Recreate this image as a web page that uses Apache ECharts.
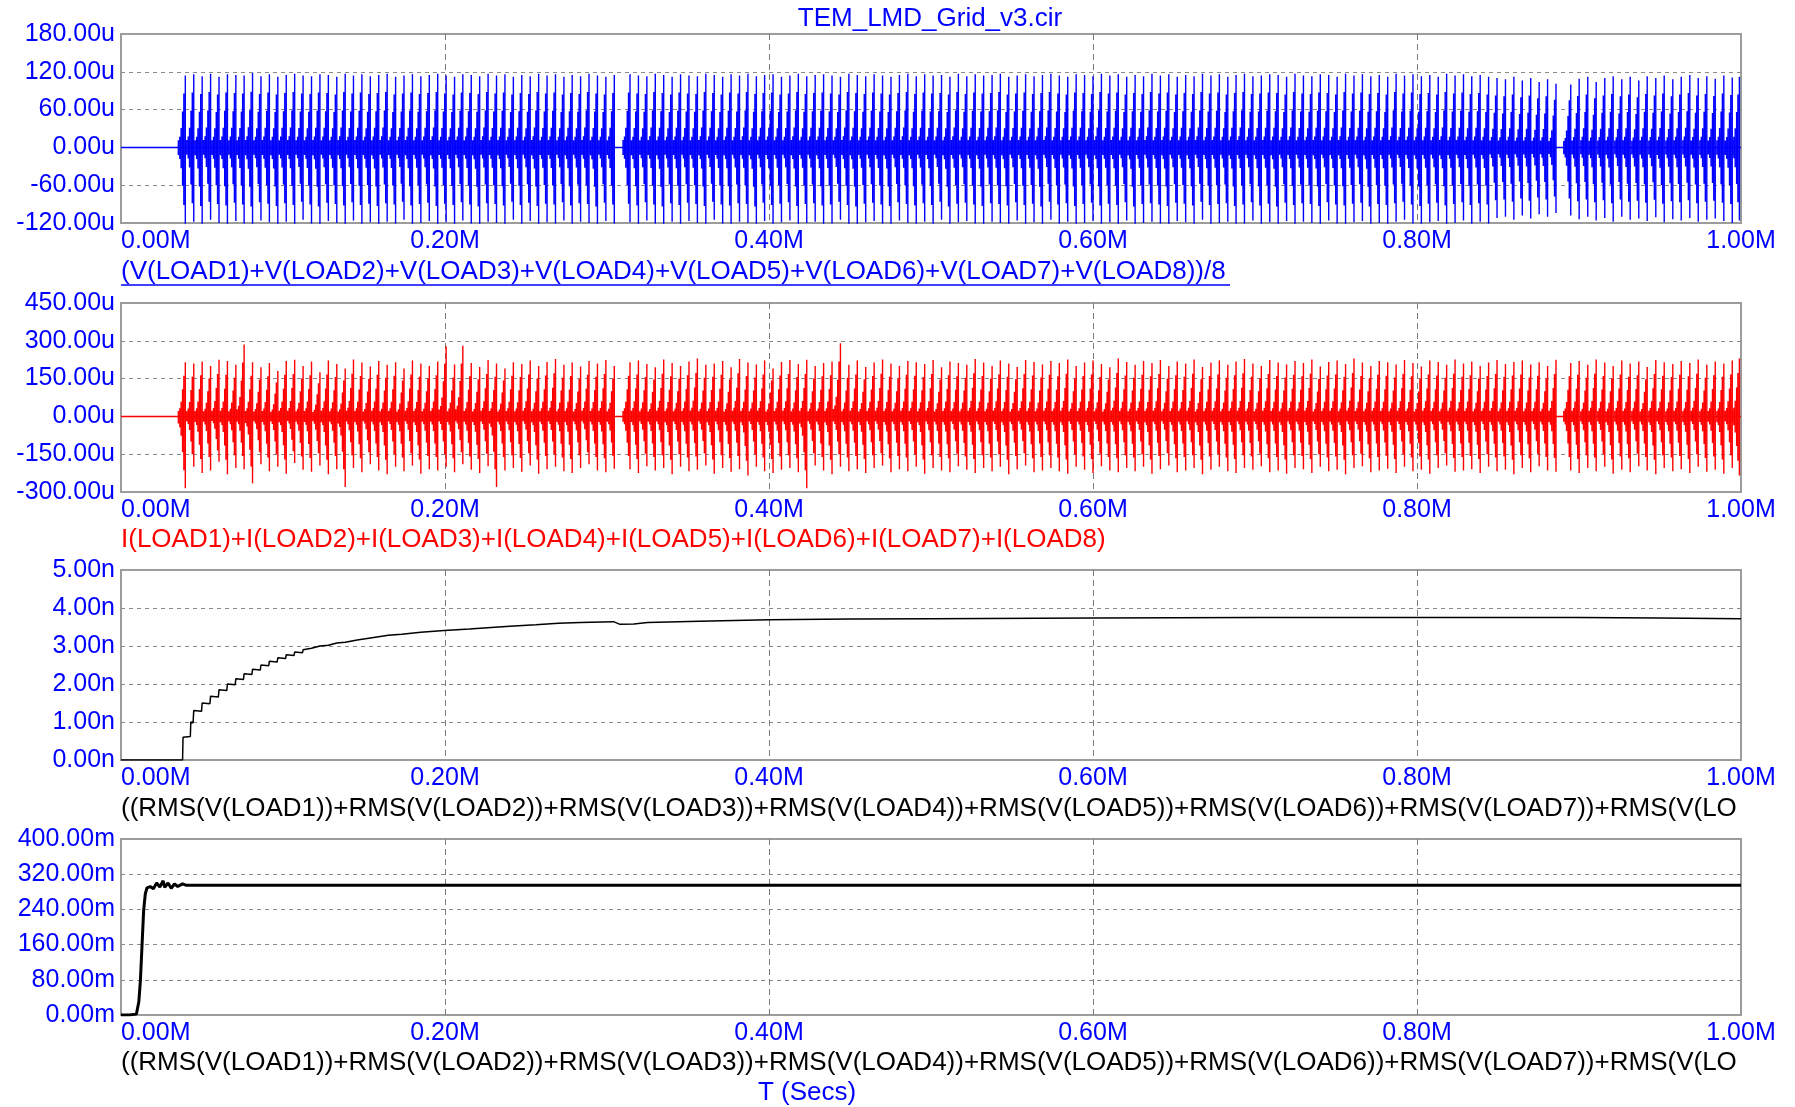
<!DOCTYPE html>
<html>
<head>
<meta charset="utf-8">
<script src="https://cdn.jsdelivr.net/npm/echarts@6/dist/echarts.min.js"></script>
<style>html,body{margin:0;padding:0;background:#fff}#c{width:1795px;height:1107px}</style>
</head>
<body>
<div id="c"></div>
<script>
// ---------------- data ----------------
const titleText = 'TEM_LMD_Grid_v3.cir';
const xAxisLabel = 'T (Secs)';
const exprV = '(V(LOAD1)+V(LOAD2)+V(LOAD3)+V(LOAD4)+V(LOAD5)+V(LOAD6)+V(LOAD7)+V(LOAD8))/8';
const exprI = 'I(LOAD1)+I(LOAD2)+I(LOAD3)+I(LOAD4)+I(LOAD5)+I(LOAD6)+I(LOAD7)+I(LOAD8)';
const exprRms = '((RMS(V(LOAD1))+RMS(V(LOAD2))+RMS(V(LOAD3))+RMS(V(LOAD4))+RMS(V(LOAD5))+RMS(V(LOAD6))+RMS(V(LOAD7))+RMS(V(LO';

const xTicks = {min: 0, max: 1, interval: 0.2};
const yTicksV = {min: -120, max: 180, interval: 60, unit: 'u'};
const yTicksI = {min: -300, max: 450, interval: 150, unit: 'u'};
const yTicksRmsN = {min: 0, max: 5, interval: 1, unit: 'n'};
const yTicksRmsM = {min: 0, max: 400, interval: 80, unit: 'm'};

// burst (spike) times
const spikeTimes = [
0.0397,0.0449,0.0501,0.0553,0.0605,0.0657,0.0709,0.0760,0.0812,0.0864,
0.0916,0.0968,0.1020,0.1072,0.1124,0.1176,0.1228,0.1280,0.1332,0.1384,
0.1435,0.1487,0.1539,0.1591,0.1643,0.1695,0.1747,0.1799,0.1851,0.1903,
0.1955,0.2007,0.2059,0.2110,0.2162,0.2214,0.2266,0.2318,0.2370,0.2422,
0.2474,0.2526,0.2578,0.2630,0.2682,0.2734,0.2785,0.2837,0.2889,0.2941,
0.2993,0.3045,
0.3142,0.3194,0.3246,0.3298,0.3350,0.3402,0.3454,0.3506,0.3558,0.3610,
0.3662,0.3714,0.3766,0.3818,0.3870,0.3922,0.3973,0.4025,0.4077,0.4129,
0.4181,0.4233,0.4285,0.4337,0.4389,0.4441,0.4493,0.4545,0.4597,0.4649,
0.4701,0.4753,0.4805,0.4857,0.4909,0.4961,0.5013,0.5065,0.5117,0.5169,
0.5221,0.5273,0.5325,0.5377,0.5428,0.5480,0.5532,0.5584,0.5636,0.5688,
0.5740,0.5792,0.5844,0.5896,0.5948,0.6000,0.6052,0.6104,0.6156,0.6208,
0.6260,0.6312,0.6364,0.6416,0.6468,0.6520,0.6572,0.6624,0.6676,0.6728,
0.6780,0.6832,0.6883,0.6935,0.6987,0.7039,0.7091,0.7143,0.7195,0.7247,
0.7299,0.7351,0.7403,0.7455,0.7507,0.7559,0.7611,0.7663,0.7715,0.7767,
0.7819,0.7871,0.7923,0.7975,0.8027,0.8079,0.8131,0.8183,0.8235,0.8287,
0.8338,0.8390,0.8442,0.8494,0.8546,0.8598,0.8650,0.8702,0.8754,0.8806,
0.8858,
0.8949,0.9001,0.9054,0.9106,0.9159,0.9211,0.9264,0.9316,0.9369,0.9421,
0.9474,0.9526,0.9579,0.9631,0.9684,0.9736,0.9789,0.9841,0.9894,0.9946,
0.9990
];
// envelope of one burst: offsets before each spike and relative heights (read from zoom)
const rampOffsets = [-0.0043, -0.0034, -0.0026, -0.0017, -0.0009, 0];
const rampLevels = [0.10, 0.15, 0.27, 0.50, 0.75, 1.00];

// panel 1: V average, spike peaks (u)
const vHi = [
114,116,113,117,112,116,115,114,118,113,116,112,115,117,114,113,116,115,112,117,
114,116,113,115,117,112,114,116,113,115,117,114,112,116,115,113,117,114,116,112,
115,113,117,114,116,112,115,113,117,114,112,115,
116,114,113,117,115,112,116,114,113,117,115,112,116,114,117,113,115,116,112,114,
117,113,115,116,114,112,117,115,113,116,114,112,115,117,113,116,114,115,112,117,
113,116,114,115,117,112,114,116,113,115,117,114,112,116,115,113,117,114,116,112,
115,113,117,114,116,112,115,113,117,114,116,112,115,117,113,114,116,115,112,117,
114,113,116,115,112,117,114,116,113,115,112,117,114,116,113,115,112,117,114,116,
113,115,112,110,108,112,106,110,104,108,101,
100,109,112,104,110,113,108,112,106,113,110,114,108,112,115,110,113,109,114,111,112
];
const vLo = [
-122,-118,-124,-115,-120,-123,-117,-121,-125,-116,-119,-124,-118,-122,-115,-121,-125,-117,-120,-123,
-116,-122,-119,-124,-118,-121,-115,-123,-120,-117,-124,-119,-122,-116,-121,-125,-118,-120,-123,-115,
-122,-117,-124,-119,-121,-116,-123,-118,-120,-125,-117,-121,
-119,-123,-116,-121,-125,-118,-122,-117,-120,-124,-115,-121,-123,-118,-120,-125,-117,-122,-119,-116,
-124,-120,-118,-123,-121,-115,-122,-125,-119,-117,-121,-124,-116,-120,-123,-118,-122,-115,-125,-119,
-117,-121,-124,-118,-120,-123,-116,-122,-119,-125,-115,-121,-118,-124,-120,-117,-123,-119,-122,-116,
-125,-120,-118,-121,-124,-117,-119,-123,-115,-122,-120,-118,-124,-121,-116,-123,-119,-125,-117,-122,
-118,-120,-124,-116,-121,-123,-119,-117,-125,-120,-122,-118,-115,-121,-124,-119,-117,-123,-120,-116,
-122,-118,-121,-112,-110,-115,-108,-113,-106,-110,-104,
-108,-114,-110,-116,-112,-118,-110,-115,-113,-117,-111,-119,-114,-116,-112,-118,-115,-113,-117,-120,-116
];

// panel 2: I sum, spike peaks (u)
const iHi = [
215,210,218,200,225,220,205,285,215,195,212,180,220,225,200,218,175,222,208,190,
226,214,198,220,205,215,190,222,210,200,218,278,206,280,212,196,224,210,190,215,
208,222,200,216,228,205,214,198,220,210,224,200,
215,222,208,195,226,212,200,218,230,205,210,220,195,228,214,206,222,190,216,224,
208,225,200,212,218,290,205,222,196,214,226,210,200,220,215,208,224,195,218,212,
205,228,214,200,222,210,196,224,216,206,220,212,226,200,214,222,208,195,230,216,
205,220,212,224,200,218,210,226,196,214,222,205,218,228,210,200,224,214,206,220,
212,226,198,216,222,208,230,214,200,220,215,206,224,212,198,222,216,205,226,210,
218,200,214,224,208,216,222,206,215,200,225,
212,220,205,226,214,200,222,210,218,196,224,215,208,220,212,226,205,218,210,222,230
];
const iLo = [
-285,-200,-225,-215,-180,-230,-205,-210,-265,-190,-218,-200,-228,-185,-212,-220,-195,-230,-210,-280,
-205,-222,-190,-215,-230,-200,-218,-195,-228,-210,-215,-200,-222,-190,-212,-225,-198,-280,-215,-205,
-220,-195,-228,-210,-200,-218,-225,-205,-190,-215,-222,-208,
-210,-225,-198,-215,-205,-230,-200,-218,-212,-195,-228,-205,-220,-210,-235,-200,-218,-225,-212,-205,
-222,-285,-195,-215,-230,-200,-218,-210,-225,-205,-195,-222,-210,-218,-200,-228,-205,-215,-222,-198,
-212,-225,-205,-218,-200,-230,-210,-195,-222,-215,-205,-218,-228,-200,-212,-225,-198,-215,-222,-205,
-218,-200,-228,-210,-195,-222,-215,-205,-230,-212,-200,-218,-225,-205,-212,-198,-222,-215,-228,-205,
-210,-225,-200,-218,-212,-230,-205,-198,-222,-215,-208,-225,-200,-218,-212,-228,-205,-195,-220,-215,
-210,-225,-200,-218,-212,-230,-205,-222,-198,-215,-220,
-215,-225,-205,-218,-200,-228,-212,-222,-198,-215,-230,-205,-218,-210,-225,-200,-220,-212,-228,-205,-235
];

// panel 3: RMS (n), [time, value] — staircase corners at the start, then the settling curve
const rmsN = [
[0,0],[0.0380,0],[0.0383,0.60],[0.0428,0.62],[0.0431,1.00],[0.0445,0.98],[0.0449,1.30],[0.0497,1.28],
[0.0501,1.50],[0.0549,1.48],[0.0553,1.68],[0.0601,1.66],[0.0605,1.85],[0.0653,1.83],[0.0657,2.00],
[0.0705,1.98],[0.0709,2.14],[0.0756,2.12],[0.0760,2.27],[0.0808,2.25],[0.0812,2.39],[0.0860,2.37],
[0.0864,2.50],[0.0912,2.48],[0.0916,2.60],[0.0964,2.58],[0.0968,2.69],[0.1016,2.67],[0.1020,2.77],
[0.1068,2.75],[0.1072,2.84],[0.1120,2.82],[0.1124,2.90],[0.1176,2.94],[0.1228,3.00],[0.1280,3.02],
[0.1332,3.08],[0.1384,3.10],[0.1458,3.16],[0.1550,3.22],[0.1650,3.28],[0.1733,3.31],[0.1850,3.36],
[0.1995,3.41],[0.2150,3.45],[0.2285,3.49],[0.2400,3.52],[0.2560,3.56],[0.2700,3.60],[0.2835,3.62],
[0.3040,3.64],[0.3080,3.57],[0.3166,3.58],[0.3250,3.62],[0.3570,3.65],[0.4000,3.69],[0.4500,3.71],
[0.5000,3.72],[0.6000,3.74],[0.7000,3.75],[0.8000,3.75],[0.9000,3.75],[0.9500,3.74],[1.0000,3.72]
];

// panel 4: RMS (m), [time, value]
const rmsM = [
[0,0],[0.0050,0],[0.0095,2],[0.0110,30],[0.0120,80],[0.0130,160],[0.0140,239],[0.0150,275],
[0.0160,289],[0.0180,292],[0.0200,287],[0.0220,300],[0.0240,291],[0.0260,305],[0.0270,290],
[0.0290,300],[0.0310,288],[0.0330,298],[0.0350,292],[0.0380,298],[0.0400,295],[1.0000,295]
];

// ---------------- chart ----------------
const FONT = '"Liberation Sans", Arial, sans-serif';
const BLUE = '#0000ff', RED = '#ff0000', BLACK = '#000000';

function burstData(times, hi, lo) {
  const d = [];
  const n = Math.min(times.length, hi.length, lo.length);
  for (let i = 0; i < n; i++) {
    for (let j = 0; j < rampOffsets.length; j++) {
      const t = times[i] + rampOffsets[j];
      d.push([t, hi[i] * rampLevels[j]]);
      d.push([t, lo[i] * rampLevels[j]]);
      d.push([t, '-']);
    }
  }
  return d;
}

const grids = [
  {left: 121, width: 1620, top: 34, height: 189},
  {left: 121, width: 1620, top: 303, height: 189},
  {left: 121, width: 1620, top: 570, height: 190},
  {left: 121, width: 1620, top: 839, height: 176}
].map(g => Object.assign(g, {show: true, borderColor: '#9c9c9c', borderWidth: 2, backgroundColor: '#fff', containLabel: false}));

const yDefs = [yTicksV, yTicksI, yTicksRmsN, yTicksRmsM];

const xAxes = grids.map((g, i) => ({
  type: 'value', gridIndex: i, min: xTicks.min, max: xTicks.max, interval: xTicks.interval,
  axisLine: {show: false}, axisTick: {show: false},
  axisLabel: {color: BLUE, fontSize: 25, fontFamily: FONT, margin: 6,
    formatter: v => v.toFixed(2) + 'M', alignMinLabel: 'left', alignMaxLabel: 'center'},
  splitLine: {show: true, showMinLine: false, showMaxLine: false,
    lineStyle: {color: '#7a7a7a', type: [6, 4], width: 1}}
}));

const yAxes = yDefs.map((y, i) => ({
  type: 'value', gridIndex: i, min: y.min, max: y.max, interval: y.interval,
  axisLine: {show: false}, axisTick: {show: false},
  axisLabel: {color: BLUE, fontSize: 25, fontFamily: FONT, margin: 6,
    formatter: v => v.toFixed(2) + y.unit},
  splitLine: {show: true, showMinLine: false, showMaxLine: false,
    lineStyle: {color: '#8a8a8a', type: [4, 4], width: 1}}
}));

const common = {type: 'line', showSymbol: false, symbol: 'none', animation: false, silent: true, connectNulls: false, clip: true};

const series = [
  Object.assign({}, common, {xAxisIndex: 0, yAxisIndex: 0, data: [[0, 0], [1, 0]], lineStyle: {color: BLUE, width: 1.5}}),
  Object.assign({}, common, {xAxisIndex: 0, yAxisIndex: 0, data: burstData(spikeTimes, vHi, vLo), lineStyle: {color: BLUE, width: 1.4}}),
  Object.assign({}, common, {xAxisIndex: 1, yAxisIndex: 1, data: [[0, 0], [1, 0]], lineStyle: {color: RED, width: 1.5}}),
  Object.assign({}, common, {xAxisIndex: 1, yAxisIndex: 1, data: burstData(spikeTimes, iHi, iLo), lineStyle: {color: RED, width: 1.4}}),
  Object.assign({}, common, {xAxisIndex: 2, yAxisIndex: 2, data: rmsN, lineStyle: {color: BLACK, width: 1.5}}),
  Object.assign({}, common, {xAxisIndex: 3, yAxisIndex: 3, data: rmsM, lineStyle: {color: BLACK, width: 3}})
];

function txt(text, x, y, color, align) {
  return {type: 'text', x: x, y: y, silent: true,
    style: {text: text, fill: color, font: '26px ' + FONT, align: align || 'left', verticalAlign: 'middle',
      textAlign: align || 'left', textVerticalAlign: 'middle'}};
}

const graphics = [
  txt(titleText, 930, 19, BLUE, 'center'),
  txt(exprV, 121, 272, BLUE),
  {type: 'line', silent: true, shape: {x1: 121, y1: 285, x2: 1230, y2: 285}, style: {stroke: BLUE, lineWidth: 1.5}},
  txt(exprI, 121, 540, RED),
  txt(exprRms, 121, 809, BLACK),
  txt(exprRms, 121, 1063, BLACK),
  txt(xAxisLabel, 807, 1093, BLUE, 'center')
];

const chart = echarts.init(document.getElementById('c'), null, {renderer: 'canvas'});
chart.setOption({
  backgroundColor: '#ffffff',
  animation: false,
  grid: grids,
  xAxis: xAxes,
  yAxis: yAxes,
  series: series,
  graphic: graphics
});
</script>
</body>
</html>
